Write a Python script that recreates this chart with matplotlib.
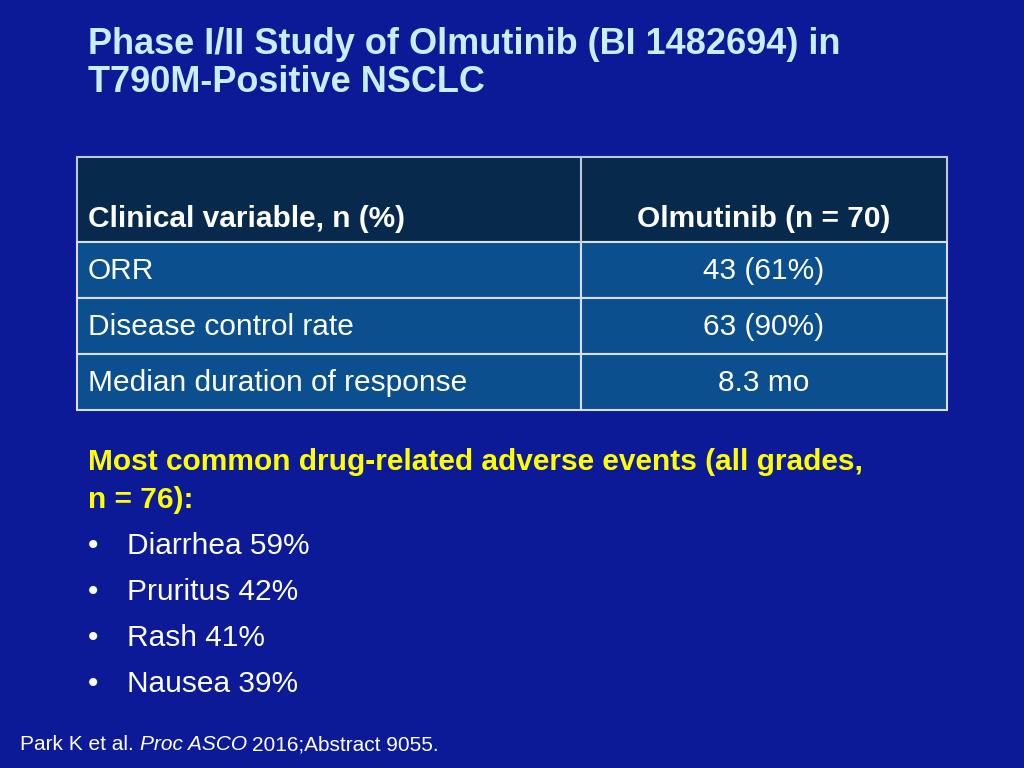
import matplotlib.pyplot as plt
from matplotlib.patches import Rectangle

W, H = 1024, 768
bg = "#0c1a98"
title_lines = ["Phase I/II Study of Olmutinib (BI 1482694) in", "T790M-Positive NSCLC"]
header = ["Clinical variable, n (%)", "Olmutinib (n = 70)"]
variables = ["ORR", "Disease control rate", "Median duration of response"]
values = ["43 (61%)", "63 (90%)", "8.3 mo"]
ae_heading = ["Most common drug-related adverse events (all grades,", "n = 76):"]
ae_items = ["Diarrhea 59%", "Pruritus 42%", "Rash 41%", "Nausea 39%"]

fig = plt.figure(figsize=(W / 100, H / 100), dpi=100)
fig.patch.set_facecolor(bg)
ax = fig.add_axes([0, 0, 1, 1])
ax.set_xlim(0, W)
ax.set_ylim(H, 0)
ax.axis("off")

font = ["Liberation Sans", "Arial", "DejaVu Sans"]
fs = 21.5
for i, t in enumerate(title_lines):
    ax.text(88, 44 + i * 38, t, color="#c8eeff", fontsize=26, fontweight="bold",
            family=font, va="center")

x0, xm, x1 = 77, 581, 947
ax.add_patch(Rectangle((x0, 157), x1 - x0, 85, facecolor="#06294c", edgecolor="#c0c8d8", lw=1.5))
ax.text(88, 219, header[0], color="white", fontsize=fs, fontweight="bold", family=font, va="center")
ax.text(764, 219, header[1], color="white", fontsize=fs, fontweight="bold", family=font,
        va="center", ha="center")
ax.plot([xm, xm], [157, 242], color="#c0c8d8", lw=1.5)

for i, (var, val) in enumerate(zip(variables, values)):
    top = 242 + i * 56
    for xa, xb in [(x0, xm), (xm, x1)]:
        ax.add_patch(Rectangle((xa, top), xb - xa, 56, facecolor="#0b4f8f",
                               edgecolor="#d8dde8", lw=1.5))
    ax.text(88, top + 29, var, color="white", fontsize=fs, family=font, va="center")
    ax.text(764, top + 29, val, color="white", fontsize=fs, family=font, va="center", ha="center")

for i, t in enumerate(ae_heading):
    ax.text(88, 462 + i * 38, t, color="#ffff00", fontsize=fs, fontweight="bold",
            family=font, va="center")
for i, t in enumerate(ae_items):
    y = 546 + i * 46
    ax.text(88, y, "\u2022", color="white", fontsize=fs, family=font, va="center")
    ax.text(127, y, t, color="white", fontsize=fs, family=font, va="center")

# footer: pieces laid out one after another
renderer = fig.canvas.get_renderer()
x = 20
for piece, style in [("Park K et al. ", "normal"), ("Proc ASCO ", "italic"),
                     ("2016;Abstract 9055.", "normal")]:
    t = ax.text(x, 745, piece, color="white", fontsize=15, family=font, va="center", style=style)
    bb = t.get_window_extent(renderer)
    x += bb.width

fig.savefig("out.png", dpi=100, facecolor=bg)
